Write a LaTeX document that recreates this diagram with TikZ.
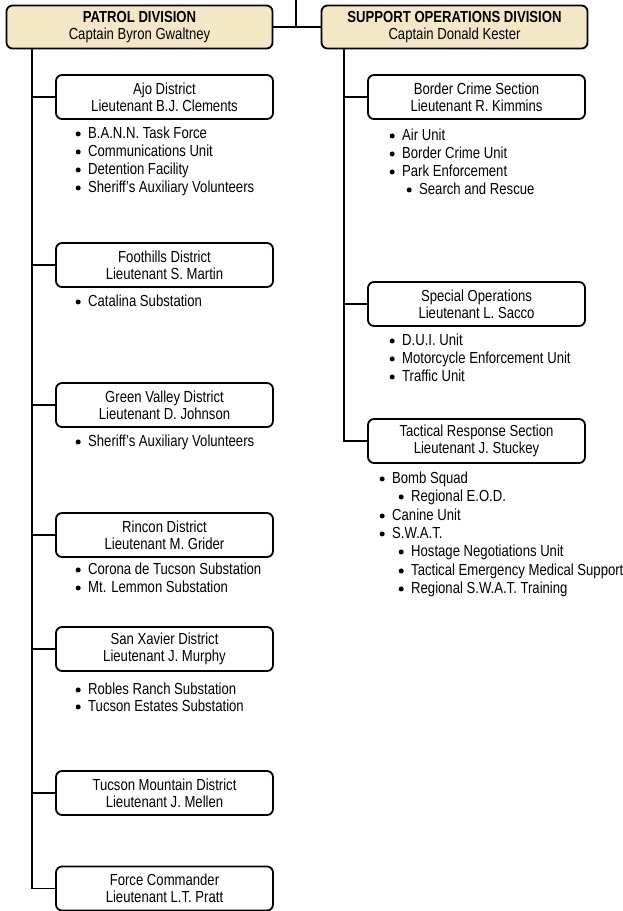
\documentclass[tikz,border=0pt]{standalone}
\usepackage{fontspec}
\setmainfont{Liberation Sans}[FakeStretch=0.82]
\definecolor{divtan}{HTML}{F3E7C6}
\newcommand\bul{\tikz[baseline=-4.8pt]\fill (0pt,0pt) circle[radius=2.5pt];\hspace{7.5pt}}
\begin{document}
\begin{tikzpicture}[x=1pt,y=-1pt,line width=1.6pt,
  box/.style={draw,rounded corners=6pt,minimum width=217pt,minimum height=44pt,inner sep=0pt,
    align=center,font=\fontsize{16}{17}\selectfont,line width=1.8pt},
  divbox/.style={box,fill=divtan,minimum width=266pt,minimum height=43pt},
  lst/.style={anchor=west,inner sep=0pt,font=\fontsize{16}{18}\selectfont,text height=11pt,text depth=3.5pt},
  conn/.style={line width=1.6pt}]
\useasboundingbox (0,0) rectangle (623,911);
% division boxes
\node[divbox] (patrol) at (139.5,27) {\textbf{PATROL DIVISION}\\Captain Byron Gwaltney};
\node[divbox] (support) at (454.5,27) {\textbf{SUPPORT OPERATIONS DIVISION}\\Captain Donald Kester};
\coordinate (top) at (296,0);
\coordinate (lx) at (32,0);
\coordinate (rx) at (344,0);
\draw[conn] (patrol.east) -- (support.west);
\draw[conn] (top) -- (top |- patrol.east);
% left column
\node[box] (ajo) at (164.5,97) {Ajo District\\Lieutenant B.J. Clements};
\node[box] (foot) at (164.5,265) {Foothills District\\Lieutenant S. Martin};
\node[box] (green) at (164.5,405) {Green Valley District\\Lieutenant D. Johnson};
\node[box] (rincon) at (164.5,535) {Rincon District\\Lieutenant M. Grider};
\node[box] (sanx) at (164.5,649) {San Xavier District\\Lieutenant J. Murphy};
\node[box] (tucm) at (164.5,793) {Tucson Mountain District\\Lieutenant J. Mellen};
\node[box] (force) at (164.5,888.5) {Force Commander\\Lieutenant L.T. Pratt};
\draw[conn] (lx |- patrol.south) |- (force.west);
\foreach \n in {ajo,foot,green,rincon,sanx,tucm}
  \draw[conn] (lx |- \n.west) -- (\n.west);
% right column
\node[box] (border) at (476.5,97) {Border Crime Section\\Lieutenant R. Kimmins};
\node[box] (special) at (476.5,304) {Special Operations\\Lieutenant L. Sacco};
\node[box] (tact) at (476.5,441) {Tactical Response Section\\Lieutenant J. Stuckey};
\draw[conn] (rx |- support.south) |- (tact.west);
\foreach \n in {border,special}
  \draw[conn] (rx |- \n.west) -- (\n.west);
% lists left
\node[lst] (a1) at (75.5,135) {\bul B.A.N.N. Task Force};
\node[lst] (a2) at (75.5,153) {\bul Communications Unit};
\node[lst] (a3) at (75.5,171) {\bul Detention Facility};
\node[lst] (a4) at (75.5,189) {\bul Sheriff's Auxiliary Volunteers};
\node[lst] (f1) at (75.5,303) {\bul Catalina Substation};
\node[lst] (g1) at (75.5,443) {\bul Sheriff's Auxiliary Volunteers};
\node[lst] (r1) at (75.5,571) {\bul Corona de Tucson Substation};
\node[lst] (r2) at (75.5,589) {\bul Mt. Lemmon Substation};
\node[lst] (s1) at (75.5,691) {\bul Robles Ranch Substation};
\node[lst] (s2) at (75.5,708) {\bul Tucson Estates Substation};
% lists right
\node[lst] (b1) at (389.5,137) {\bul Air Unit};
\node[lst] (b2) at (389.5,155) {\bul Border Crime Unit};
\node[lst] (b3) at (389.5,173) {\bul Park Enforcement};
\node[lst] (b4) at (406.5,191) {\bul Search and Rescue};
\node[lst] (p1) at (389.5,342) {\bul D.U.I. Unit};
\node[lst] (p2) at (389.5,360) {\bul Motorcycle Enforcement Unit};
\node[lst] (p3) at (389.5,378) {\bul Traffic Unit};
\node[lst] (t1) at (379.5,480) {\bul Bomb Squad};
\node[lst] (t2) at (398.5,498) {\bul Regional E.O.D.};
\node[lst] (t3) at (379.5,517) {\bul Canine Unit};
\node[lst] (t4) at (379.5,535) {\bul S.W.A.T.};
\node[lst] (t5) at (398.5,553) {\bul Hostage Negotiations Unit};
\node[lst] (t6) at (398.5,572) {\bul Tactical Emergency Medical Support};
\node[lst] (t7) at (398.5,590) {\bul Regional S.W.A.T. Training};
\end{tikzpicture}
\end{document}
